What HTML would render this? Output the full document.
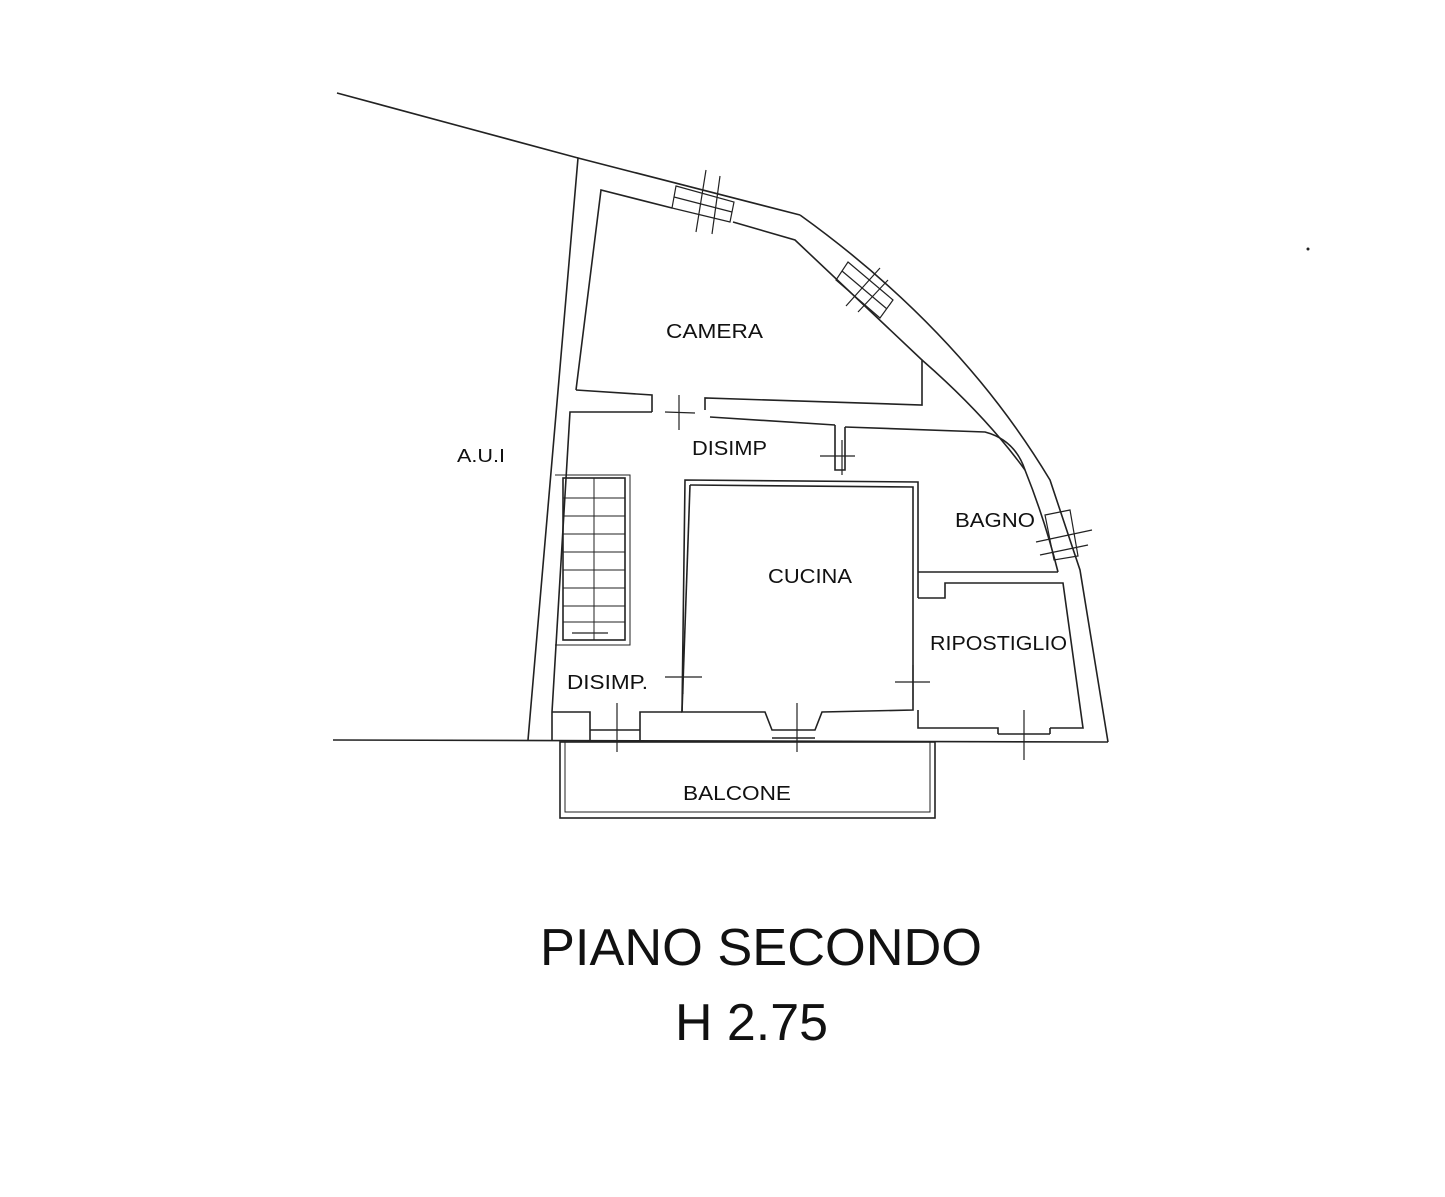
<!DOCTYPE html>
<html><head><meta charset="utf-8"><style>
html,body{margin:0;padding:0;background:#fff;}
svg{display:block}
text{font-family:"Liberation Sans",sans-serif;fill:#111}
</style></head><body>
<svg width="1445" height="1197" viewBox="0 0 1445 1197" xmlns="http://www.w3.org/2000/svg">
<g fill="none" stroke="#222" stroke-width="1.6">
<line x1="337" y1="93" x2="578" y2="158"/>
<line x1="333" y1="740" x2="1108" y2="742"/>
<polyline points="528,740 578,158 800,215"/>
<path d="M800,215 Q960,330 1050,480 L1080,570 L1108,742"/>
<polyline points="552,740 552,712 570,412 652,412"/>
<path d="M922,360 Q985,415 1025,470 Q1045,520 1058,572"/>
<polyline points="576,390 601,190 672,208"/>
<polyline points="733,222 795,240 922,360 922,405 705,398 705,410"/>
<polyline points="576,390 652,395 652,412"/>
<line x1="710" y1="417" x2="835" y2="425"/>
<polyline points="835,425 835,470 845,470 845,427"/>
<path d="M845,427 L985,432 Q1015,440 1025,470"/>
<polyline points="690,485 913,487 913,710 822,712 815,730 772,730 765,712 682,712 685,480 918,482 918,598"/>
<line x1="690" y1="485" x2="682" y2="712"/>
<line x1="918" y1="572" x2="1058" y2="572"/>
<polyline points="918,598 945,598 945,583 1063,583 1083,728 1050,728"/>
<polyline points="998,734 998,728 918,728 918,710"/>
<line x1="998" y1="734" x2="1050" y2="734"/>
<line x1="1050" y1="728" x2="1050" y2="734"/>
<polyline points="552,712 590,712 590,740"/>
<polyline points="640,740 640,712 682,712"/>
<line x1="590" y1="730" x2="640" y2="730"/>
<line x1="772" y1="738" x2="815" y2="738"/>
<rect x="560" y="742" width="375" height="76"/>
<rect x="565" y="742" width="365" height="70" stroke-width="1"/>
<rect x="563" y="478" width="62" height="162"/>
<polyline points="555,475 630,475 630,645 555,645" stroke-width="1"/>
<line x1="594" y1="478" x2="594" y2="640" stroke-width="1"/>
<g stroke-width="1">
<line x1="563" y1="498" x2="625" y2="498"/><line x1="563" y1="516" x2="625" y2="516"/>
<line x1="563" y1="534" x2="625" y2="534"/><line x1="563" y1="552" x2="625" y2="552"/>
<line x1="563" y1="570" x2="625" y2="570"/><line x1="563" y1="588" x2="625" y2="588"/>
<line x1="563" y1="606" x2="625" y2="606"/><line x1="563" y1="622" x2="625" y2="622"/>
</g>
<g stroke-width="1.2">
<polygon points="676,186 734,202 730,222 672,208"/>
<line x1="674" y1="197" x2="732" y2="212"/>
<line x1="706" y1="170" x2="696" y2="232"/><line x1="720" y1="176" x2="712" y2="234"/>
<polygon points="848,262 893,300 880,318 836,280"/>
<line x1="842" y1="271" x2="887" y2="309"/>
<line x1="880" y1="268" x2="846" y2="306"/><line x1="888" y1="280" x2="858" y2="312"/>
<polygon points="1045,515 1070,510 1078,556 1054,560"/>
<line x1="1036" y1="542" x2="1092" y2="530"/><line x1="1040" y1="555" x2="1088" y2="545"/>
<line x1="679" y1="395" x2="679" y2="430"/><line x1="665" y1="412" x2="695" y2="413"/>
<line x1="820" y1="456" x2="855" y2="456"/><line x1="842" y1="440" x2="842" y2="475"/>
<line x1="665" y1="677" x2="702" y2="677"/><line x1="683" y1="660" x2="683" y2="694"/>
<line x1="895" y1="682" x2="930" y2="682"/><line x1="913" y1="665" x2="913" y2="700"/>
<line x1="617" y1="703" x2="617" y2="752"/><line x1="797" y1="703" x2="797" y2="752"/>
<line x1="1024" y1="710" x2="1024" y2="760"/>
<line x1="572" y1="633" x2="608" y2="633"/>
</g>
</g>
<g font-size="20">
<text x="666" y="338" textLength="97" lengthAdjust="spacingAndGlyphs">CAMERA</text>
<text x="692" y="455" textLength="75" lengthAdjust="spacingAndGlyphs">DISIMP</text>
<text x="457" y="462" font-size="18" textLength="48" lengthAdjust="spacingAndGlyphs">A.U.I</text>
<text x="955" y="527" textLength="80" lengthAdjust="spacingAndGlyphs">BAGNO</text>
<text x="768" y="583" textLength="84" lengthAdjust="spacingAndGlyphs">CUCINA</text>
<text x="930" y="650" textLength="137" lengthAdjust="spacingAndGlyphs">RIPOSTIGLIO</text>
<text x="567" y="689" textLength="81" lengthAdjust="spacingAndGlyphs">DISIMP.</text>
<text x="683" y="800" textLength="108" lengthAdjust="spacingAndGlyphs">BALCONE</text>
</g>
<text x="540" y="965" font-size="52" textLength="442" lengthAdjust="spacingAndGlyphs">PIANO SECONDO</text>
<text x="675" y="1040" font-size="52" textLength="153" lengthAdjust="spacingAndGlyphs">H 2.75</text>
<circle cx="1308" cy="249" r="1.5" fill="#222"/>
</svg>
</body></html>
